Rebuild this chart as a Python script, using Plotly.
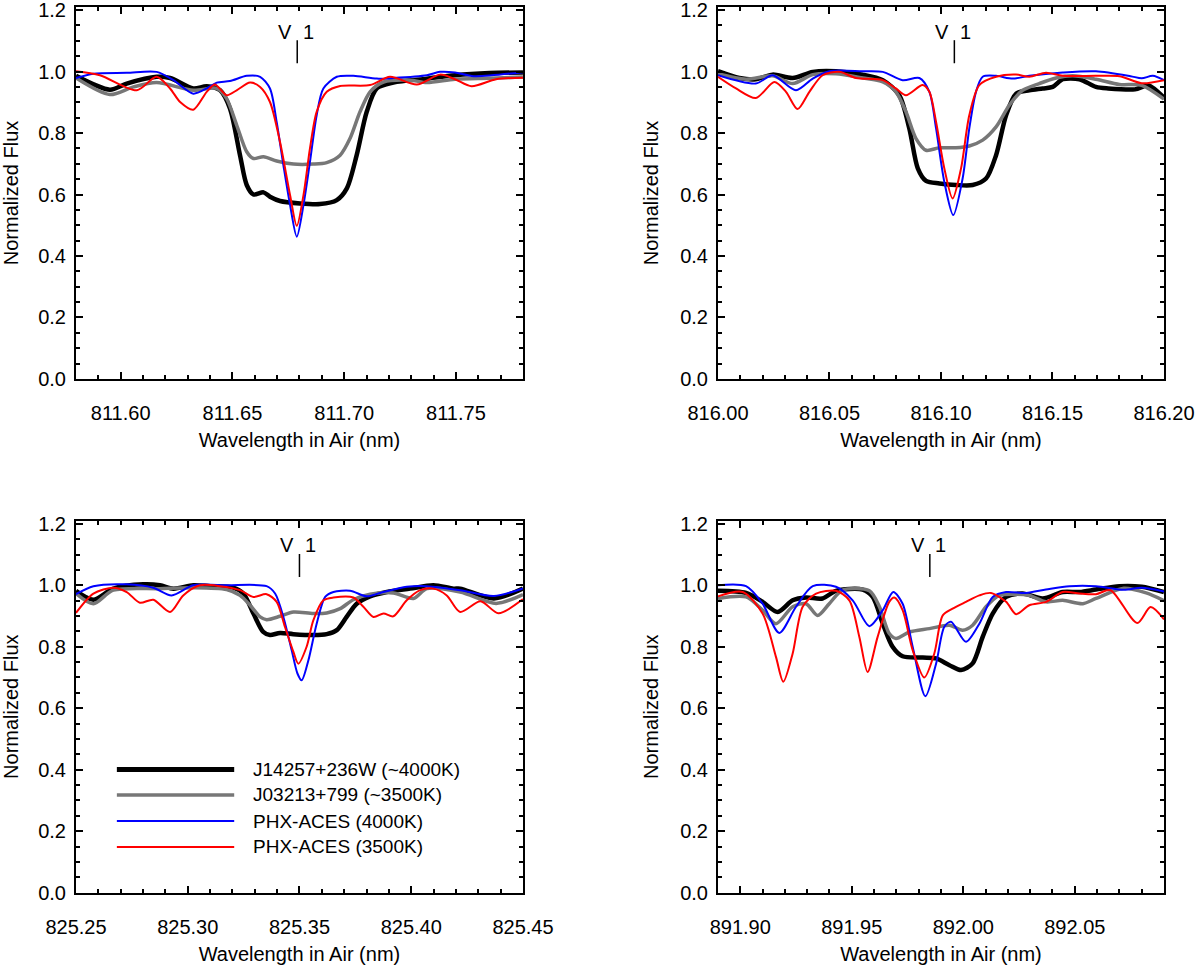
import plotly.graph_objects as go
from plotly.subplots import make_subplots

# ---- panel 1 : 811.58 - 811.78 nm
p1_black_x = [811.5800, 811.5952, 811.6027, 811.6161, 811.6221, 811.6325, 811.6385, 811.6445, 811.6489, 811.6534,
              811.6564, 811.6594, 811.6639, 811.6668, 811.6713, 811.6803, 811.6892, 811.6967, 811.7012, 811.7056,
              811.7101, 811.7146, 811.7220, 811.7370, 811.7496, 811.7650, 811.7800]
p1_black_y = [0.986, 0.941, 0.961, 0.983, 0.979, 0.945, 0.952, 0.939, 0.880, 0.728,
              0.631, 0.600, 0.607, 0.593, 0.579, 0.571, 0.569, 0.582, 0.620, 0.728,
              0.869, 0.945, 0.964, 0.977, 0.988, 0.995, 0.997]
p1_gray_x = [811.5800, 811.5952, 811.6057, 811.6161, 811.6325, 811.6430, 811.6474, 811.6519, 811.6564, 811.6594,
             811.6639, 811.6698, 811.6773, 811.6862, 811.6922, 811.6982, 811.7026, 811.7071, 811.7116, 811.7176,
             811.7295, 811.7370, 811.7496, 811.7650, 811.7800]
p1_gray_y = [0.979, 0.925, 0.950, 0.964, 0.939, 0.945, 0.912, 0.826, 0.739, 0.717,
             0.723, 0.709, 0.699, 0.699, 0.704, 0.728, 0.782, 0.869, 0.934, 0.966,
             0.972, 0.964, 0.975, 0.978, 0.982]
p1_blue_x = [811.5800, 811.5878, 811.6027, 811.6161, 811.6236, 811.6325, 811.6385, 811.6430, 811.6489, 811.6564,
             811.6624, 811.6668, 811.6698, 811.6728, 811.6758, 811.6788, 811.6818, 811.6847, 811.6877, 811.6907,
             811.6967, 811.7041, 811.7146, 811.7220, 811.7370, 811.7429, 811.7496, 811.7580, 811.7800]
p1_blue_y = [0.979, 0.993, 0.996, 0.999, 0.972, 0.928, 0.945, 0.964, 0.969, 0.986,
             0.983, 0.945, 0.836, 0.696, 0.566, 0.463, 0.566, 0.706, 0.858, 0.945,
             0.983, 0.986, 0.977, 0.979, 0.988, 0.999, 0.997, 0.985, 0.998]
p1_red_x = [811.5800, 811.5907, 811.6072, 811.6161, 811.6221, 811.6266, 811.6325, 811.6385, 811.6422, 811.6474,
            811.6519, 811.6579, 811.6624, 811.6668, 811.6713, 811.6758, 811.6788, 811.6818, 811.6847, 811.6877,
            811.6922, 811.6982, 811.7116, 811.7205, 811.7325, 811.7429, 811.7496, 811.7570, 811.7680, 811.7800]
p1_red_y = [1.001, 0.988, 0.939, 0.983, 0.945, 0.901, 0.876, 0.934, 0.958, 0.923,
            0.939, 0.964, 0.950, 0.901, 0.771, 0.598, 0.498, 0.598, 0.750, 0.869,
            0.934, 0.953, 0.956, 0.983, 0.958, 0.990, 0.975, 0.952, 0.975, 0.980]

# ---- panel 2 : 816.00 - 816.20 nm
p2_black_x = [816.0000, 816.0096, 816.0170, 816.0245, 816.0335, 816.0425, 816.0529, 816.0649, 816.0739, 816.0813,
              816.0858, 816.0896, 816.0933, 816.0993, 816.1067, 816.1142, 816.1202, 816.1247, 816.1292, 816.1337,
              816.1396, 816.1456, 816.1501, 816.1546, 816.1621, 816.1695, 816.1750, 816.1870, 816.1930, 816.2000]
p2_black_y = [1.001, 0.979, 0.975, 0.990, 0.979, 0.999, 1.001, 0.990, 0.972, 0.923,
              0.815, 0.685, 0.644, 0.636, 0.631, 0.631, 0.652, 0.728, 0.858, 0.928,
              0.939, 0.945, 0.950, 0.975, 0.975, 0.950, 0.945, 0.942, 0.955, 0.915]
p2_gray_x = [816.0000, 816.0126, 816.0245, 816.0335, 816.0425, 816.0529, 816.0649, 816.0739, 816.0798, 816.0843,
             816.0888, 816.0933, 816.0993, 816.1067, 816.1127, 816.1187, 816.1247, 816.1307, 816.1366, 816.1441,
             816.1516, 816.1591, 816.1695, 816.1800, 816.1900, 816.2000]
p2_gray_y = [0.993, 0.975, 0.986, 0.961, 0.990, 0.993, 0.979, 0.966, 0.934, 0.869,
             0.782, 0.744, 0.752, 0.752, 0.758, 0.777, 0.820, 0.891, 0.939, 0.961,
             0.979, 0.986, 0.975, 0.958, 0.955, 0.910]
p2_blue_x = [816.0000, 816.0170, 816.0245, 816.0350, 816.0425, 816.0499, 816.0649, 816.0739, 816.0828, 816.0903,
             816.0948, 816.0978, 816.1015, 816.1055, 816.1097, 816.1127, 816.1157, 816.1187, 816.1247, 816.1322,
             816.1396, 816.1546, 816.1695, 816.1850, 816.1900, 816.1950, 816.2000]
p2_blue_y = [0.988, 0.961, 0.988, 0.939, 0.977, 1.001, 1.001, 0.999, 0.972, 0.979,
             0.934, 0.815, 0.641, 0.533, 0.652, 0.815, 0.934, 0.983, 0.986, 0.977,
             0.986, 0.997, 1.001, 0.985, 0.978, 0.986, 0.972]
p2_red_x = [816.0000, 816.0081, 816.0170, 816.0253, 816.0305, 816.0357, 816.0410, 816.0469, 816.0544, 816.0619,
            816.0739, 816.0798, 816.0843, 816.0918, 816.0948, 816.0978, 816.1015, 816.1052, 816.1090, 816.1127,
            816.1172, 816.1247, 816.1337, 816.1396, 816.1471, 816.1546, 816.1695, 816.1800, 816.1900, 816.2000]
p2_red_y = [0.983, 0.945, 0.914, 0.966, 0.934, 0.878, 0.934, 0.988, 0.999, 0.979,
            0.972, 0.945, 0.923, 0.956, 0.934, 0.836, 0.685, 0.587, 0.685, 0.858,
            0.956, 0.983, 0.990, 0.983, 0.996, 0.986, 0.986, 0.985, 0.962, 0.972]

# ---- panel 3 : 825.25 - 825.45 nm
p3_black_x = [825.2500, 825.2578, 825.2667, 825.2801, 825.2876, 825.2936, 825.3025, 825.3100, 825.3204, 825.3249,
              825.3294, 825.3338, 825.3368, 825.3413, 825.3473, 825.3562, 825.3622, 825.3667, 825.3711, 825.3756,
              825.3816, 825.3891, 825.3995, 825.4099, 825.4189, 825.4219, 825.4370, 825.4500]
p3_black_y = [0.982, 0.953, 0.989, 1.003, 1.000, 0.989, 1.000, 0.997, 0.992, 0.973,
              0.908, 0.848, 0.838, 0.845, 0.841, 0.838, 0.841, 0.854, 0.897, 0.940,
              0.964, 0.978, 0.989, 1.000, 0.989, 0.989, 0.957, 0.989]
p3_gray_x = [825.2500, 825.2578, 825.2667, 825.2876, 825.3025, 825.3174, 825.3234, 825.3279, 825.3324, 825.3353,
             825.3413, 825.3473, 825.3562, 825.3622, 825.3682, 825.3741, 825.3816, 825.3920, 825.4010, 825.4070,
             825.4219, 825.4380, 825.4500]
p3_gray_y = [0.973, 0.940, 0.984, 0.989, 0.992, 0.986, 0.967, 0.935, 0.897, 0.888,
             0.899, 0.913, 0.908, 0.910, 0.924, 0.953, 0.971, 0.975, 0.957, 0.989,
             0.978, 0.941, 0.970]
p3_blue_x = [825.2500, 825.2578, 825.2727, 825.2846, 825.2928, 825.3025, 825.3174, 825.3353, 825.3391, 825.3428,
             825.3465, 825.3491, 825.3510, 825.3540, 825.3577, 825.3615, 825.3652, 825.3726, 825.3801, 825.3861,
             825.3980, 825.4070, 825.4219, 825.4370, 825.4500]
p3_blue_y = [0.971, 0.997, 1.003, 0.992, 0.967, 1.000, 1.000, 0.997, 0.973, 0.897,
             0.789, 0.713, 0.691, 0.756, 0.875, 0.962, 0.978, 0.982, 0.964, 0.975,
             0.995, 0.997, 0.984, 0.965, 0.990]
p3_red_x = [825.2500, 825.2578, 825.2667, 825.2727, 825.2786, 825.2846, 825.2921, 825.2980, 825.3055, 825.3145,
            825.3234, 825.3294, 825.3353, 825.3398, 825.3435, 825.3473, 825.3495, 825.3532, 825.3562, 825.3607,
            825.3652, 825.3741, 825.3786, 825.3831, 825.3876, 825.3920, 825.3980, 825.4040, 825.4099, 825.4159,
            825.4219, 825.4310, 825.4390, 825.4500]
p3_red_y = [0.910, 0.973, 0.992, 0.978, 0.943, 0.953, 0.913, 0.967, 1.000, 0.997,
            0.984, 0.962, 0.971, 0.946, 0.865, 0.783, 0.745, 0.800, 0.886, 0.951,
            0.960, 0.960, 0.930, 0.897, 0.908, 0.899, 0.951, 0.984, 0.989, 0.967,
            0.913, 0.948, 0.909, 0.955]

# ---- panel 4 : 891.89 - 892.09 nm
p4_black_x = [891.8900, 891.9026, 891.9100, 891.9168, 891.9235, 891.9295, 891.9369, 891.9429, 891.9549, 891.9594,
              891.9639, 891.9683, 891.9728, 891.9818, 891.9878, 891.9938, 891.9990, 892.0042, 892.0087, 892.0132,
              892.0192, 892.0266, 892.0356, 892.0446, 892.0521, 892.0595, 892.0700, 892.0800, 892.0900]
p4_black_y = [0.982, 0.975, 0.946, 0.913, 0.951, 0.960, 0.957, 0.982, 0.986, 0.962,
              0.875, 0.800, 0.769, 0.765, 0.762, 0.740, 0.724, 0.746, 0.832, 0.908,
              0.962, 0.973, 0.957, 0.978, 0.978, 0.986, 0.997, 0.995, 0.978]
p4_gray_x = [891.8900, 891.9026, 891.9100, 891.9160, 891.9235, 891.9295, 891.9347, 891.9399, 891.9459, 891.9579,
             891.9624, 891.9668, 891.9698, 891.9758, 891.9848, 891.9938, 891.9997, 892.0042, 892.0102, 892.0162,
             892.0237, 892.0296, 892.0371, 892.0446, 892.0536, 892.0595, 892.0720, 892.0820, 892.0900]
p4_gray_y = [0.957, 0.962, 0.919, 0.875, 0.930, 0.940, 0.902, 0.940, 0.984, 0.982,
             0.930, 0.843, 0.827, 0.848, 0.859, 0.870, 0.854, 0.870, 0.930, 0.967,
             0.971, 0.967, 0.946, 0.951, 0.940, 0.957, 0.990, 0.975, 0.950]
p4_blue_x = [891.8900, 891.9026, 891.9100, 891.9175, 891.9250, 891.9325, 891.9429, 891.9504, 891.9579, 891.9639,
             891.9686, 891.9728, 891.9773, 891.9830, 891.9878, 891.9915, 891.9945, 892.0012, 892.0072, 892.0132,
             892.0192, 892.0281, 892.0371, 892.0476, 892.0595, 892.0720, 892.0800, 892.0900]
p4_blue_y = [1.000, 0.997, 0.940, 0.845, 0.930, 0.997, 0.995, 0.951, 0.867, 0.919,
             0.978, 0.940, 0.800, 0.639, 0.745, 0.865, 0.881, 0.816, 0.875, 0.962,
             0.978, 0.975, 0.986, 0.997, 0.997, 0.985, 0.992, 0.980]
p4_red_x = [891.8900, 891.9011, 891.9100, 891.9160, 891.9193, 891.9235, 891.9280, 891.9340, 891.9429, 891.9489,
            891.9534, 891.9571, 891.9616, 891.9668, 891.9691, 891.9728, 891.9773, 891.9825, 891.9870, 891.9908,
            891.9952, 892.0012, 892.0072, 892.0124, 892.0192, 892.0237, 892.0296, 892.0371, 892.0446, 892.0521,
            892.0595, 892.0660, 892.0780, 892.0840, 892.0900]
p4_red_y = [0.964, 0.978, 0.908, 0.767, 0.686, 0.778, 0.930, 0.973, 0.982, 0.951,
            0.832, 0.718, 0.832, 0.946, 0.960, 0.919, 0.789, 0.700, 0.778, 0.902,
            0.924, 0.946, 0.967, 0.975, 0.946, 0.906, 0.935, 0.946, 0.978, 0.973,
            0.971, 0.984, 0.877, 0.929, 0.889]

# panel settings
x_ranges = [[811.58, 811.78], [816.00, 816.20], [825.25, 825.45], [891.89, 892.09]]
x_tick0 = [811.60, 816.00, 825.25, 891.90]
line_centers = [811.679, 816.106, 825.350, 891.985]

legend_labels = ["J14257+236W (~4000K)", "J03213+799 (~3500K)", "PHX-ACES (4000K)", "PHX-ACES (3500K)"]
colors = ["black", "#777777", "#0000ff", "#ff0000"]
widths = [4.5, 3.5, 2, 2]

panels = [
    [(p1_black_x, p1_black_y), (p1_gray_x, p1_gray_y), (p1_blue_x, p1_blue_y), (p1_red_x, p1_red_y)],
    [(p2_black_x, p2_black_y), (p2_gray_x, p2_gray_y), (p2_blue_x, p2_blue_y), (p2_red_x, p2_red_y)],
    [(p3_black_x, p3_black_y), (p3_gray_x, p3_gray_y), (p3_blue_x, p3_blue_y), (p3_red_x, p3_red_y)],
    [(p4_black_x, p4_black_y), (p4_gray_x, p4_gray_y), (p4_blue_x, p4_blue_y), (p4_red_x, p4_red_y)],
]

FONT = "Liberation Sans, Arial, Helvetica, sans-serif"
FS = 20

fig = make_subplots(rows=2, cols=2)

# plot box positions (paper fractions)
x_domains = [[0.0633, 0.4358], [0.5983, 0.9700]]
y_domains = [[0.6093, 0.9928], [0.0797, 0.4632]]

for i, series in enumerate(panels):
    row = i // 2 + 1
    col = i % 2 + 1
    for k in [0, 1, 2, 3]:
        xs, ys = series[k]
        fig.add_trace(go.Scatter(x=xs, y=ys, mode="lines",
                                 line=dict(color=colors[k], width=widths[k], shape="spline", smoothing=0.8),
                                 showlegend=False, hoverinfo="skip"),
                      row=row, col=col)

    fig.update_xaxes(range=x_ranges[i], domain=x_domains[col - 1],
                     tick0=x_tick0[i], dtick=0.05, tickformat=".2f",
                     minor=dict(dtick=0.01, tick0=x_tick0[i], ticks="inside", ticklen=4, tickwidth=2, tickcolor="black"),
                     title=dict(text="Wavelength in Air (nm)", standoff=10, font=dict(size=FS, color="black", family=FONT)),
                     ticklabelstandoff=15,
                     row=row, col=col)
    fig.update_yaxes(range=[0, 1.21], domain=y_domains[row - 1],
                     tick0=0, dtick=0.2, tickformat=".1f",
                     minor=dict(dtick=0.05, tick0=0, ticks="inside", ticklen=4, tickwidth=2, tickcolor="black"),
                     title=dict(text="Normalized Flux", standoff=16, font=dict(size=FS, color="black", family=FONT)),
                     ticklabelstandoff=4,
                     row=row, col=col)

    # V I line marker
    xref = "x" if i == 0 else "x%d" % (i + 1)
    yref = "y" if i == 0 else "y%d" % (i + 1)
    fig.add_shape(type="line", xref=xref, yref=yref, x0=line_centers[i], x1=line_centers[i],
                  y0=1.027, y1=1.102, line=dict(color="black", width=1.5))
    fig.add_annotation(xref=xref, yref=yref, x=line_centers[i], y=1.13, text="V", showarrow=False,
                       xshift=-12, font=dict(size=FS, color="black", family=FONT))
    fig.add_annotation(xref=xref, yref=yref, x=line_centers[i], y=1.13, text="1", showarrow=False,
                       xshift=11, font=dict(size=FS, color="black", family=FONT))

# automargin off: the template would otherwise shrink the plot area
fig.update_xaxes(showline=True, linecolor="black", linewidth=2, mirror="allticks",
                 ticks="inside", ticklen=7, tickwidth=2, tickcolor="black",
                 showgrid=False, zeroline=False, automargin=False, ticklabeloverflow="allow",
                 tickfont=dict(size=FS, color="black", family=FONT))
fig.update_yaxes(showline=True, linecolor="black", linewidth=2, mirror="allticks",
                 ticks="inside", ticklen=7, tickwidth=2, tickcolor="black",
                 showgrid=False, zeroline=False, automargin=False, ticklabeloverflow="allow",
                 tickfont=dict(size=FS, color="black", family=FONT))

# hand-drawn legend inside panel 3 (long sample lines like the original)
legend_y = [0.401, 0.318, 0.233, 0.149]
legend_widths = [5, 3.5, 2, 2]
for k in range(4):
    fig.add_shape(type="line", xref="x3 domain", yref="y3", x0=0.0915, x1=0.354,
                  y0=legend_y[k], y1=legend_y[k], line=dict(color=colors[k], width=legend_widths[k]))
    fig.add_annotation(xref="x3 domain", yref="y3", x=0.392, y=legend_y[k], text=legend_labels[k],
                       showarrow=False, xanchor="left", yanchor="middle",
                       font=dict(size=19, color="black", family=FONT))

fig.update_layout(width=1200, height=970, margin=dict(l=0, r=0, t=0, b=0),
                  plot_bgcolor="white", paper_bgcolor="white",
                  font=dict(family=FONT, size=FS, color="black"))

# page has a default 8px body margin; drop it so the figure sits at the window corner
fig.write_html("out.html", config={"displayModeBar": False},
               post_script="document.body.style.margin='0px';")
